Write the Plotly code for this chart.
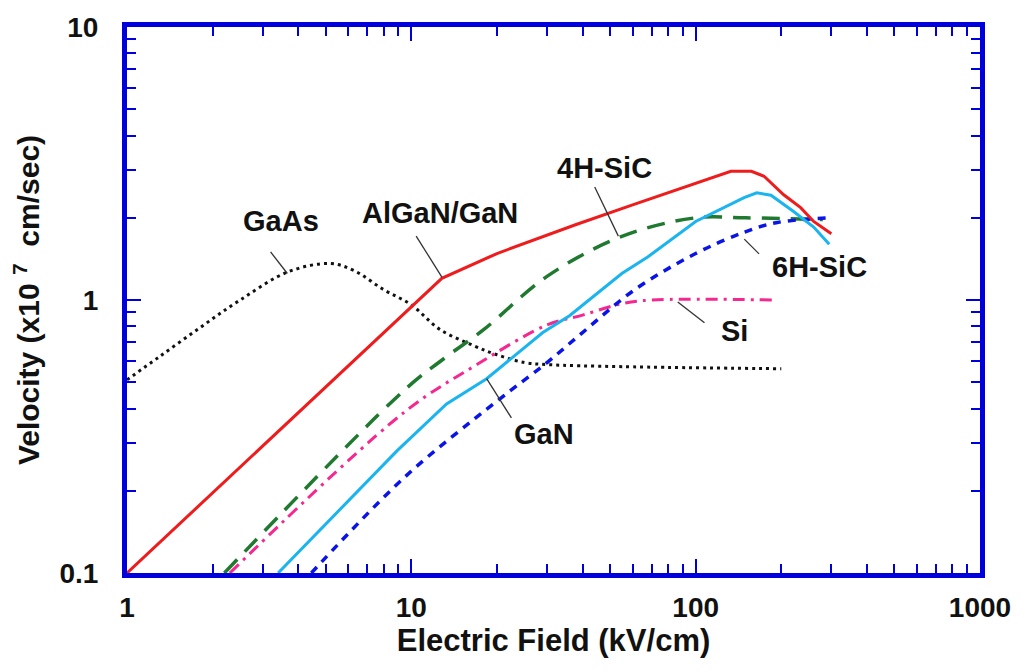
import numpy as np
import plotly.graph_objects as go

# ---- data (electric field kV/cm, velocity x1e7 cm/s) ----
algan_x = [1, 12.8, 20, 38, 60, 100, 133, 157, 174, 204, 234, 260, 300]
algan_y = [0.1, 1.2, 1.48, 1.89, 2.23, 2.68, 2.96, 2.96, 2.84, 2.43, 2.18, 1.94, 1.75]

gan_x = [3.4, 8.9, 13.3, 18.4, 29, 36, 55, 68, 100, 148, 164, 184, 221, 260, 295]
gan_y = [0.1, 0.28, 0.416, 0.515, 0.76, 0.876, 1.25, 1.44, 1.94, 2.37, 2.47, 2.42, 2.11, 1.85, 1.60]

sic4h_x = [2.2, 9.5, 13.3, 18, 30, 55, 100, 150, 280]
sic4h_y = [0.1, 0.47, 0.62, 0.78, 1.22, 1.71, 2.0, 2.0, 1.97]

si_x = [2.3, 9.5, 17, 30, 40, 55, 70, 190]
si_y = [0.1, 0.39, 0.58, 0.81, 0.88, 0.97, 1.0, 1.0]

sic6h_x = [4.45, 9.5, 20, 30, 40, 61, 100, 148, 192, 300]
sic6h_y = [0.1, 0.225, 0.426, 0.59, 0.76, 1.09, 1.48, 1.77, 1.92, 2.0]

gaas_x = [1, 1.3, 1.8, 2.5, 3.7, 5.2, 6.3, 8, 10, 12.6, 16.6, 20, 25, 30, 55, 200]
gaas_y = [0.51, 0.62, 0.79, 1.0, 1.27, 1.36, 1.28, 1.09, 0.96, 0.78, 0.68, 0.63, 0.59, 0.58, 0.57, 0.56]

x_tickvals = [1, 10, 100, 1000]
x_ticktext = ["1", "10", "100", "1000"]
y_tickvals = [0.1, 1, 10]
y_ticktext = ["0.1", "1", "10"]

# label text, label position (log10 x, log10 y), leader from -> to (log10)
labels = [
    ("GaAs",      0.540,  0.288, (0.505, 0.176), (0.564, 0.097)),
    ("AlGaN/GaN", 1.101,  0.320, (1.017, 0.234), (1.108, 0.083)),
    ("4H-SiC",    1.679,  0.482, (1.645, 0.414), (1.728, 0.234)),
    ("6H-SiC",    2.436,  0.122, (2.171, 0.223), (2.223, 0.169)),
    ("Si",        2.136, -0.112, (1.937, -0.007), (2.031, -0.083)),
    ("GaN",       1.467, -0.489, (1.265, -0.288), (1.352, -0.432)),
]

FONT = "Liberation Sans, Arial, sans-serif"
AXIS_BLUE = "#0000dd"
TXT = "#111111"

fig = go.Figure()
fig.add_trace(go.Scatter(x=gaas_x, y=gaas_y, mode="lines", name="GaAs",
                         line=dict(color=TXT, width=3, dash="3px,4px", shape="spline")))
fig.add_trace(go.Scatter(x=sic4h_x, y=sic4h_y, mode="lines", name="4H-SiC",
                         line=dict(color="#1f7a30", width=3.5, dash="18px,11px", shape="spline")))
fig.add_trace(go.Scatter(x=si_x, y=si_y, mode="lines", name="Si",
                         line=dict(color="#f5288f", width=3, dash="12px,6px,3px,6px", shape="spline")))
fig.add_trace(go.Scatter(x=sic6h_x, y=sic6h_y, mode="lines", name="6H-SiC",
                         line=dict(color="#0a14e6", width=3.5, dash="8px,7px", shape="spline")))
fig.add_trace(go.Scatter(x=gan_x, y=gan_y, mode="lines", name="GaN",
                         line=dict(color="#1ab4ee", width=3)))
fig.add_trace(go.Scatter(x=algan_x, y=algan_y, mode="lines", name="AlGaN/GaN",
                         line=dict(color="#ee1c1c", width=3)))

ann = []
shapes = []
for text, lx, ly, (ax0, ay0), (ax1, ay1) in labels:
    ann.append(dict(x=lx, y=ly, xref="x", yref="y", text="<b>%s</b>" % text, showarrow=False,
                    font=dict(family=FONT, size=29, color=TXT)))
    # shapes on log axes take data values
    shapes.append(dict(type="line", xref="x", yref="y",
                       x0=10 ** ax0, y0=10 ** ay0, x1=10 ** ax1, y1=10 ** ay1,
                       line=dict(color="#333333", width=1.3)))

axis_common = dict(
    type="log", showline=True, linecolor=AXIS_BLUE, linewidth=5, mirror="ticks",
    ticks="inside", ticklen=14, tickwidth=2, tickcolor=AXIS_BLUE,
    showgrid=False, zeroline=False,
    tickfont=dict(family=FONT, size=28, color=TXT),
    minor=dict(ticks="inside", ticklen=9, tickwidth=2, tickcolor=AXIS_BLUE, dtick="D1", showgrid=False),
)

fig.update_layout(
    width=1023, height=672,
    margin=dict(l=127, r=35, t=18, b=99),
    paper_bgcolor="white", plot_bgcolor="white",
    showlegend=False,
    annotations=ann,
    shapes=shapes,
    xaxis=dict(axis_common, range=[0, 3], tickvals=x_tickvals,
               ticktext=["<b>%s</b>" % t for t in x_ticktext],
               ticklabelstandoff=5,
               title=dict(text="<b>Electric Field (kV/cm)</b>", standoff=0,
                          font=dict(family=FONT, size=31, color=TXT))),
    yaxis=dict(axis_common, range=[-1, 1], tickvals=y_tickvals,
               ticktext=["<b>%s</b>" % t for t in y_ticktext],
               ticklabelstandoff=18,
               title=dict(text="<b>Velocity (x10 <sup>7</sup>  cm/sec)</b>", standoff=12,
                          font=dict(family=FONT, size=30, color=TXT))),
)

fig.write_html("out.html")
